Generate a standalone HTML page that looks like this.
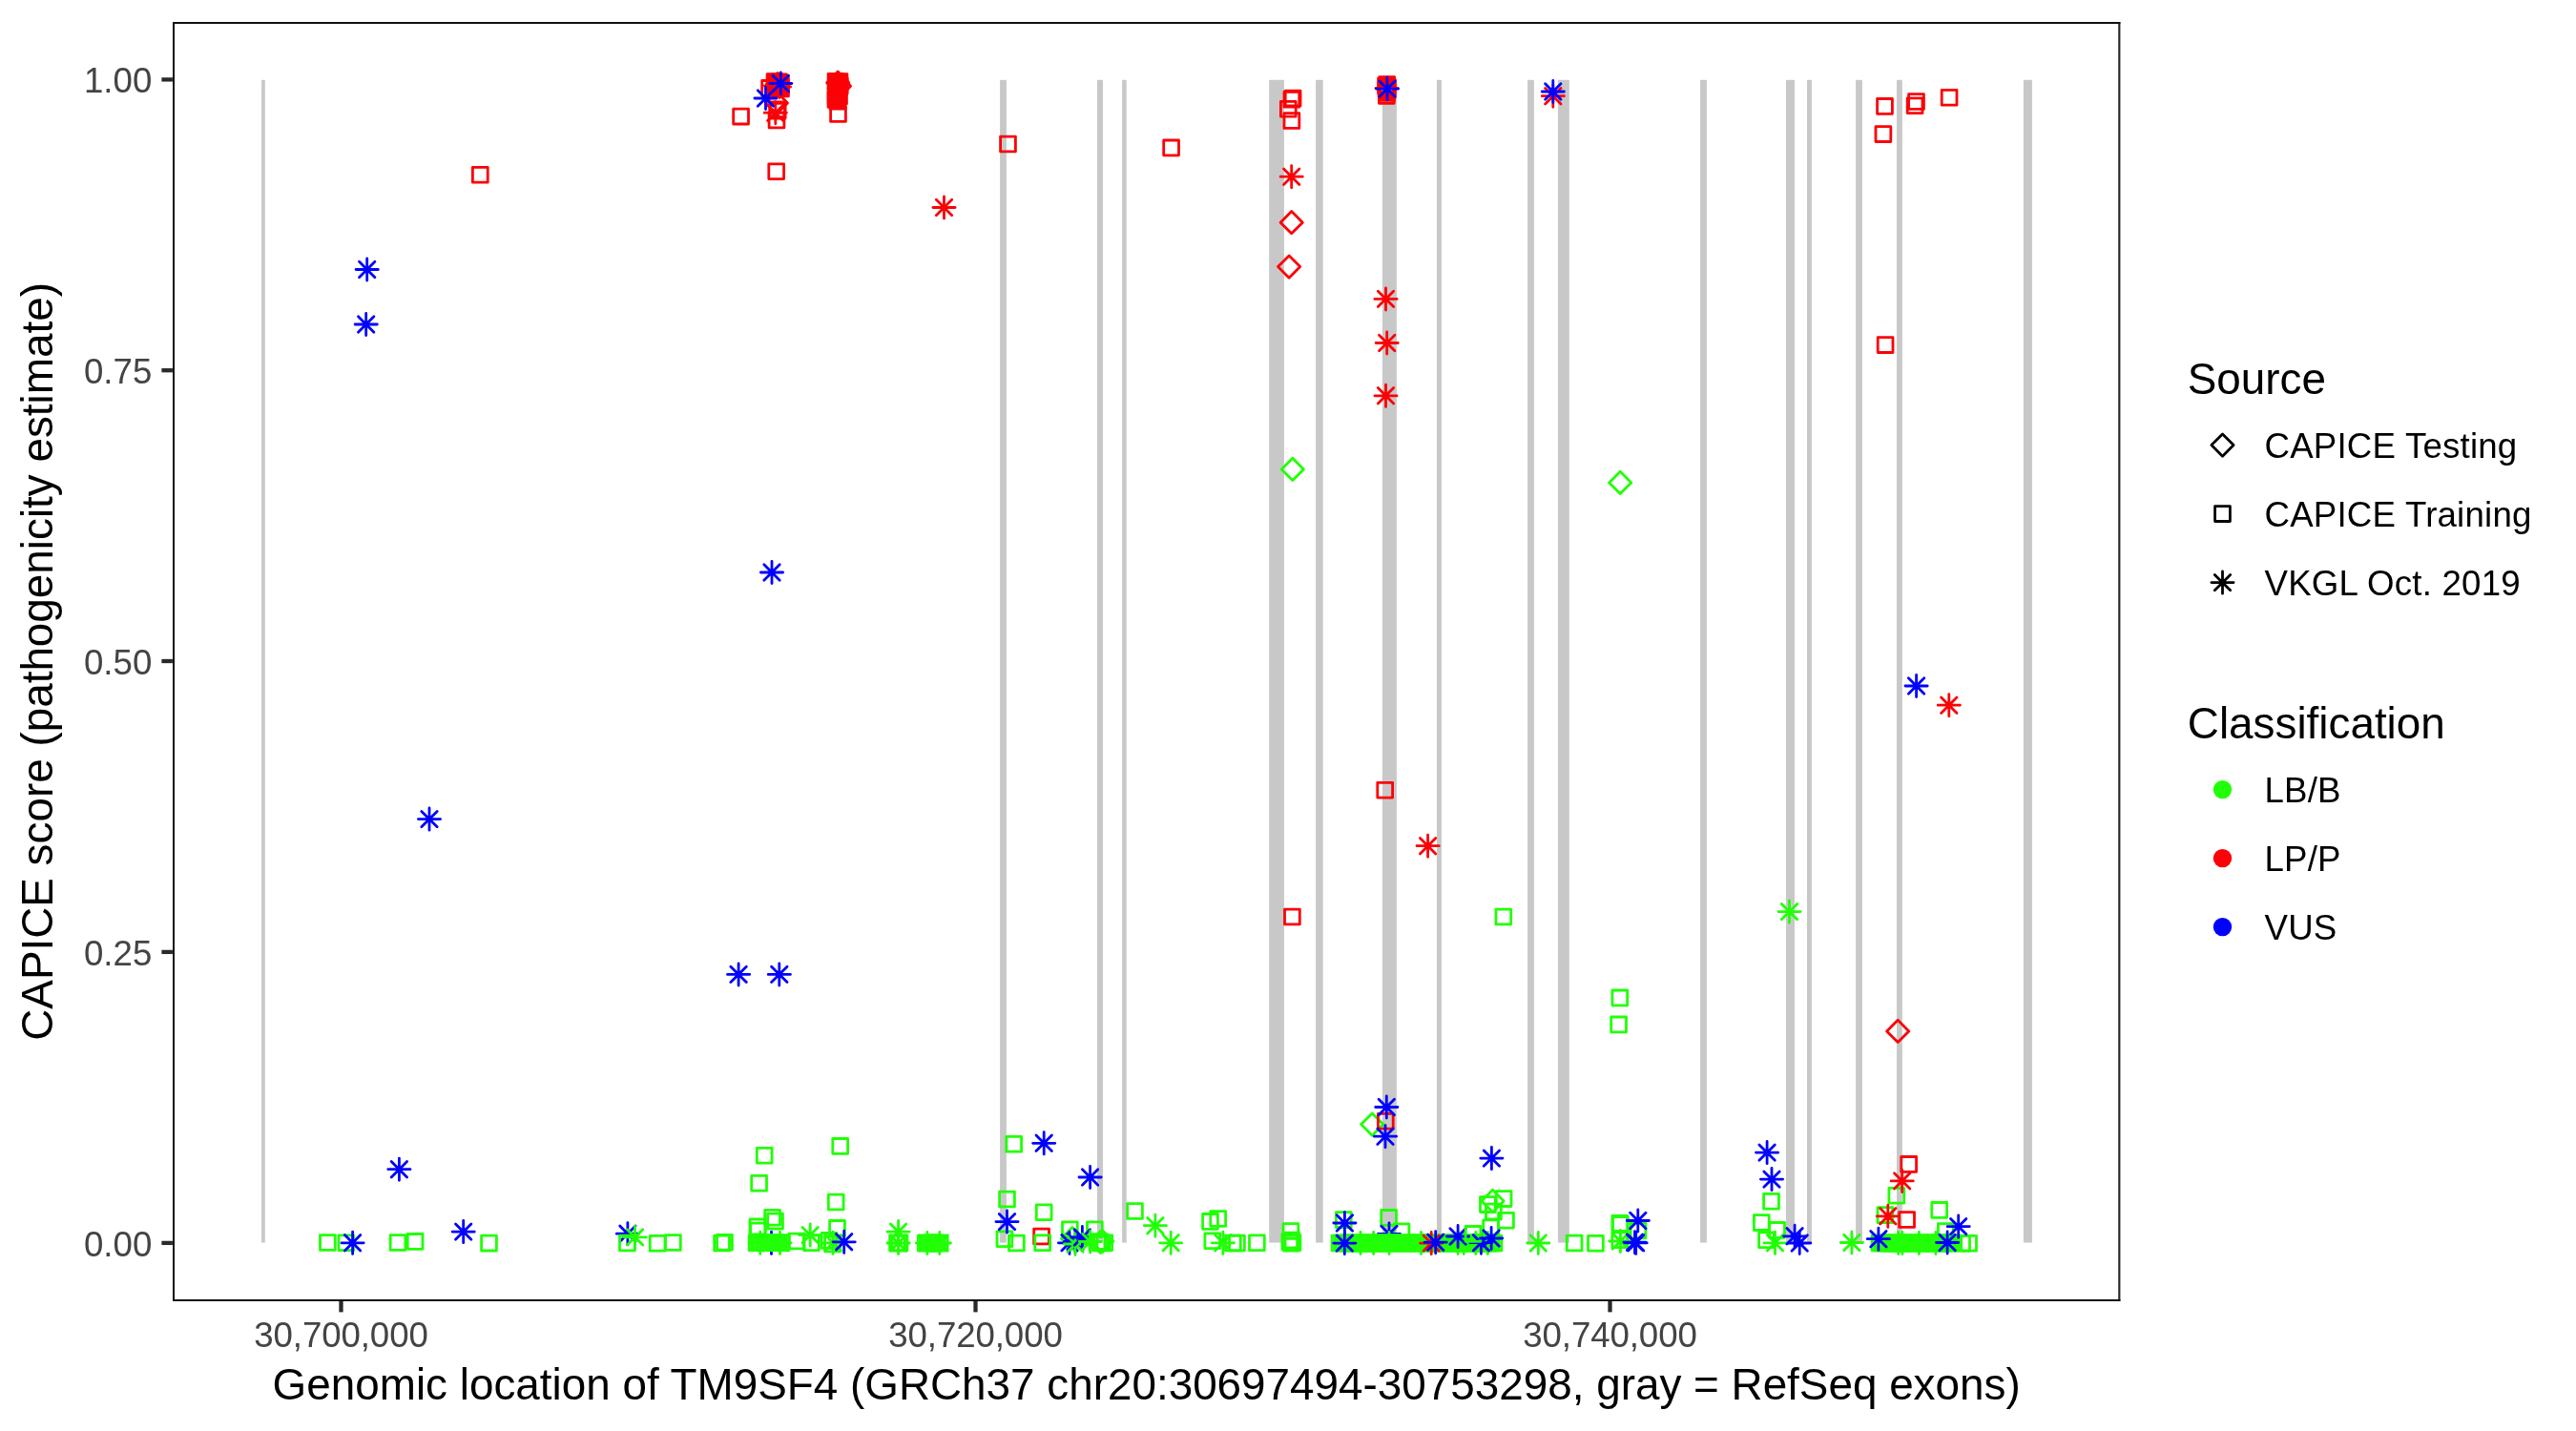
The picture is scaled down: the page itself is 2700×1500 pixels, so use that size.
<!DOCTYPE html>
<html><head><meta charset="utf-8"><title>CAPICE TM9SF4</title>
<style>html,body{margin:0;padding:0;background:#fff}svg{display:block;will-change:transform;transform:translateZ(0)}text{font-family:"Liberation Sans",Arial,Helvetica,sans-serif}</style></head><body>
<svg width="2700" height="1500" viewBox="0 0 2700 1500">
<rect width="2700" height="1500" fill="#fff"/>
<g fill="#C8C8C8">
<rect x="274.1" y="83.8" width="3.7" height="1218.8"/>
<rect x="1048.1" y="83.8" width="6.8" height="1218.8"/>
<rect x="1150.0" y="83.8" width="6.0" height="1218.8"/>
<rect x="1176.1" y="83.8" width="4.6" height="1218.8"/>
<rect x="1330.2" y="83.8" width="15.7" height="1218.8"/>
<rect x="1379.1" y="83.8" width="7.6" height="1218.8"/>
<rect x="1448.9" y="83.8" width="15.0" height="1218.8"/>
<rect x="1506.0" y="83.8" width="4.9" height="1218.8"/>
<rect x="1601.1" y="83.8" width="6.8" height="1218.8"/>
<rect x="1632.9" y="83.8" width="11.9" height="1218.8"/>
<rect x="1782.1" y="83.8" width="6.8" height="1218.8"/>
<rect x="1872.0" y="83.8" width="9.0" height="1218.8"/>
<rect x="1894.0" y="83.8" width="4.9" height="1218.8"/>
<rect x="1945.1" y="83.8" width="6.8" height="1218.8"/>
<rect x="1988.0" y="83.8" width="5.8" height="1218.8"/>
<rect x="2120.9" y="83.8" width="9.0" height="1218.8"/>
</g>
<g>
<rect x="335.5" y="1294.6" width="15.8" height="15.8" fill="none" stroke="#21FF06" stroke-width="2.8" stroke-linejoin="round"/>
<rect x="355.0" y="1294.9" width="15.8" height="15.8" fill="none" stroke="#21FF06" stroke-width="2.8" stroke-linejoin="round"/>
<rect x="409.1" y="1294.6" width="15.8" height="15.8" fill="none" stroke="#21FF06" stroke-width="2.8" stroke-linejoin="round"/>
<rect x="427.2" y="1293.5" width="15.8" height="15.8" fill="none" stroke="#21FF06" stroke-width="2.8" stroke-linejoin="round"/>
<rect x="504.6" y="1295.2" width="15.8" height="15.8" fill="none" stroke="#21FF06" stroke-width="2.8" stroke-linejoin="round"/>
<path d="M358.0 1302.8H381.2M369.6 1291.2V1314.4M361.4 1294.6L377.8 1311.0M361.4 1311.0L377.8 1294.6" fill="none" stroke="#0000FF" stroke-width="2.8" stroke-linecap="round"/>
<path d="M474.1 1291.1H497.3M485.7 1279.5V1302.7M477.5 1282.9L493.9 1299.3M477.5 1299.3L493.9 1282.9" fill="none" stroke="#0000FF" stroke-width="2.8" stroke-linecap="round"/>
<path d="M406.8 1225.7H430.0M418.4 1214.1V1237.3M410.2 1217.5L426.6 1233.9M410.2 1233.9L426.6 1217.5" fill="none" stroke="#0000FF" stroke-width="2.8" stroke-linecap="round"/>
<path d="M646.3 1293.2H669.5M657.9 1281.6V1304.8M649.7 1285.0L666.1 1301.4M649.7 1301.4L666.1 1285.0" fill="none" stroke="#0000FF" stroke-width="2.8" stroke-linecap="round"/>
<rect x="649.5" y="1295.1" width="15.8" height="15.8" fill="none" stroke="#21FF06" stroke-width="2.8" stroke-linejoin="round"/>
<rect x="681.2" y="1295.4" width="15.8" height="15.8" fill="none" stroke="#21FF06" stroke-width="2.8" stroke-linejoin="round"/>
<rect x="697.5" y="1294.6" width="15.8" height="15.8" fill="none" stroke="#21FF06" stroke-width="2.8" stroke-linejoin="round"/>
<rect x="748.7" y="1295.1" width="15.8" height="15.8" fill="none" stroke="#21FF06" stroke-width="2.8" stroke-linejoin="round"/>
<rect x="751.6" y="1294.3" width="15.8" height="15.8" fill="none" stroke="#21FF06" stroke-width="2.8" stroke-linejoin="round"/>
<rect x="793.3" y="1203.4" width="15.8" height="15.8" fill="none" stroke="#21FF06" stroke-width="2.8" stroke-linejoin="round"/>
<rect x="787.7" y="1232.3" width="15.8" height="15.8" fill="none" stroke="#21FF06" stroke-width="2.8" stroke-linejoin="round"/>
<rect x="872.8" y="1193.5" width="15.8" height="15.8" fill="none" stroke="#21FF06" stroke-width="2.8" stroke-linejoin="round"/>
<rect x="868.3" y="1252.1" width="15.8" height="15.8" fill="none" stroke="#21FF06" stroke-width="2.8" stroke-linejoin="round"/>
<rect x="869.6" y="1279.5" width="15.8" height="15.8" fill="none" stroke="#21FF06" stroke-width="2.8" stroke-linejoin="round"/>
<rect x="801.7" y="1268.3" width="15.8" height="15.8" fill="none" stroke="#21FF06" stroke-width="2.8" stroke-linejoin="round"/>
<rect x="804.6" y="1272.2" width="15.8" height="15.8" fill="none" stroke="#21FF06" stroke-width="2.8" stroke-linejoin="round"/>
<rect x="786.0" y="1278.0" width="15.8" height="15.8" fill="none" stroke="#21FF06" stroke-width="2.8" stroke-linejoin="round"/>
<rect x="786.6" y="1282.1" width="15.8" height="15.8" fill="none" stroke="#21FF06" stroke-width="2.8" stroke-linejoin="round"/>
<rect x="827.3" y="1293.1" width="15.8" height="15.8" fill="none" stroke="#21FF06" stroke-width="2.8" stroke-linejoin="round"/>
<rect x="842.5" y="1294.9" width="15.8" height="15.8" fill="none" stroke="#21FF06" stroke-width="2.8" stroke-linejoin="round"/>
<rect x="861.1" y="1292.5" width="15.8" height="15.8" fill="none" stroke="#21FF06" stroke-width="2.8" stroke-linejoin="round"/>
<rect x="864.6" y="1296.0" width="15.8" height="15.8" fill="none" stroke="#21FF06" stroke-width="2.8" stroke-linejoin="round"/>
<path d="M654.0 1296.9H677.2M665.6 1285.3V1308.5M657.4 1288.7L673.8 1305.1M657.4 1305.1L673.8 1288.7" fill="none" stroke="#21FF06" stroke-width="2.8" stroke-linecap="round"/>
<path d="M796.9 1302.8H820.1M808.5 1291.2V1314.4M800.3 1294.6L816.7 1311.0M800.3 1311.0L816.7 1294.6" fill="none" stroke="#0000FF" stroke-width="2.8" stroke-linecap="round"/>
<rect x="785.1" y="1294.9" width="15.8" height="15.8" fill="none" stroke="#21FF06" stroke-width="2.8" stroke-linejoin="round"/>
<rect x="787.7" y="1294.9" width="15.8" height="15.8" fill="none" stroke="#21FF06" stroke-width="2.8" stroke-linejoin="round"/>
<rect x="790.3" y="1294.9" width="15.8" height="15.8" fill="none" stroke="#21FF06" stroke-width="2.8" stroke-linejoin="round"/>
<rect x="792.9" y="1294.9" width="15.8" height="15.8" fill="none" stroke="#21FF06" stroke-width="2.8" stroke-linejoin="round"/>
<rect x="795.5" y="1294.9" width="15.8" height="15.8" fill="none" stroke="#21FF06" stroke-width="2.8" stroke-linejoin="round"/>
<rect x="798.1" y="1294.9" width="15.8" height="15.8" fill="none" stroke="#21FF06" stroke-width="2.8" stroke-linejoin="round"/>
<rect x="800.7" y="1294.9" width="15.8" height="15.8" fill="none" stroke="#21FF06" stroke-width="2.8" stroke-linejoin="round"/>
<rect x="803.3" y="1294.9" width="15.8" height="15.8" fill="none" stroke="#21FF06" stroke-width="2.8" stroke-linejoin="round"/>
<rect x="805.9" y="1294.9" width="15.8" height="15.8" fill="none" stroke="#21FF06" stroke-width="2.8" stroke-linejoin="round"/>
<rect x="808.5" y="1294.9" width="15.8" height="15.8" fill="none" stroke="#21FF06" stroke-width="2.8" stroke-linejoin="round"/>
<rect x="811.1" y="1294.9" width="15.8" height="15.8" fill="none" stroke="#21FF06" stroke-width="2.8" stroke-linejoin="round"/>
<path d="M785.2 1302.8H808.4M796.8 1291.2V1314.4M788.6 1294.6L805.0 1311.0M788.6 1311.0L805.0 1294.6" fill="none" stroke="#21FF06" stroke-width="2.8" stroke-linecap="round"/>
<path d="M805.9 1302.8H829.1M817.5 1291.2V1314.4M809.3 1294.6L825.7 1311.0M809.3 1311.0L825.7 1294.6" fill="none" stroke="#21FF06" stroke-width="2.8" stroke-linecap="round"/>
<path d="M837.6 1294.6H860.8M849.2 1283.0V1306.2M841.0 1286.4L857.4 1302.8M841.0 1302.8L857.4 1286.4" fill="none" stroke="#21FF06" stroke-width="2.8" stroke-linecap="round"/>
<path d="M861.5 1302.8H884.7M873.1 1291.2V1314.4M864.9 1294.6L881.3 1311.0M864.9 1311.0L881.3 1294.6" fill="none" stroke="#21FF06" stroke-width="2.8" stroke-linecap="round"/>
<path d="M873.1 1301.8H896.3M884.7 1290.2V1313.4M876.5 1293.6L892.9 1310.0M876.5 1310.0L892.9 1293.6" fill="none" stroke="#0000FF" stroke-width="2.8" stroke-linecap="round"/>
<path d="M930.0 1291.1H953.2M941.6 1279.5V1302.7M933.4 1282.9L949.8 1299.3M933.4 1299.3L949.8 1282.9" fill="none" stroke="#21FF06" stroke-width="2.8" stroke-linecap="round"/>
<rect x="932.6" y="1295.1" width="15.8" height="15.8" fill="none" stroke="#21FF06" stroke-width="2.8" stroke-linejoin="round"/>
<rect x="933.7" y="1295.1" width="15.8" height="15.8" fill="none" stroke="#21FF06" stroke-width="2.8" stroke-linejoin="round"/>
<rect x="935.1" y="1295.1" width="15.8" height="15.8" fill="none" stroke="#21FF06" stroke-width="2.8" stroke-linejoin="round"/>
<path d="M930.0 1303.0H953.2M941.6 1291.4V1314.6M933.4 1294.8L949.8 1311.2M933.4 1311.2L949.8 1294.8" fill="none" stroke="#21FF06" stroke-width="2.8" stroke-linecap="round"/>
<rect x="962.3" y="1295.1" width="15.8" height="15.8" fill="none" stroke="#21FF06" stroke-width="2.8" stroke-linejoin="round"/>
<rect x="964.6" y="1295.1" width="15.8" height="15.8" fill="none" stroke="#21FF06" stroke-width="2.8" stroke-linejoin="round"/>
<rect x="967.1" y="1295.1" width="15.8" height="15.8" fill="none" stroke="#21FF06" stroke-width="2.8" stroke-linejoin="round"/>
<rect x="969.6" y="1295.1" width="15.8" height="15.8" fill="none" stroke="#21FF06" stroke-width="2.8" stroke-linejoin="round"/>
<rect x="972.1" y="1295.1" width="15.8" height="15.8" fill="none" stroke="#21FF06" stroke-width="2.8" stroke-linejoin="round"/>
<rect x="974.6" y="1295.1" width="15.8" height="15.8" fill="none" stroke="#21FF06" stroke-width="2.8" stroke-linejoin="round"/>
<rect x="977.3" y="1295.1" width="15.8" height="15.8" fill="none" stroke="#21FF06" stroke-width="2.8" stroke-linejoin="round"/>
<path d="M960.3 1303.0H983.5M971.9 1291.4V1314.6M963.7 1294.8L980.1 1311.2M963.7 1311.2L980.1 1294.8" fill="none" stroke="#21FF06" stroke-width="2.8" stroke-linecap="round"/>
<path d="M973.2 1303.0H996.4M984.8 1291.4V1314.6M976.6 1294.8L993.0 1311.2M976.6 1311.2L993.0 1294.8" fill="none" stroke="#21FF06" stroke-width="2.8" stroke-linecap="round"/>
<rect x="1054.8" y="1191.4" width="15.8" height="15.8" fill="none" stroke="#21FF06" stroke-width="2.8" stroke-linejoin="round"/>
<rect x="1047.6" y="1249.1" width="15.8" height="15.8" fill="none" stroke="#21FF06" stroke-width="2.8" stroke-linejoin="round"/>
<rect x="1086.3" y="1262.8" width="15.8" height="15.8" fill="none" stroke="#21FF06" stroke-width="2.8" stroke-linejoin="round"/>
<rect x="1045.0" y="1290.8" width="15.8" height="15.8" fill="none" stroke="#21FF06" stroke-width="2.8" stroke-linejoin="round"/>
<rect x="1057.5" y="1295.1" width="15.8" height="15.8" fill="none" stroke="#21FF06" stroke-width="2.8" stroke-linejoin="round"/>
<path d="M1082.6 1198.3H1105.8M1094.2 1186.7V1209.9M1086.0 1190.1L1102.4 1206.5M1086.0 1206.5L1102.4 1190.1" fill="none" stroke="#0000FF" stroke-width="2.8" stroke-linecap="round"/>
<path d="M1131.0 1234.0H1154.2M1142.6 1222.4V1245.6M1134.4 1225.8L1150.8 1242.2M1134.4 1242.2L1150.8 1225.8" fill="none" stroke="#0000FF" stroke-width="2.8" stroke-linecap="round"/>
<path d="M1043.9 1280.6H1067.1M1055.5 1269.0V1292.2M1047.3 1272.4L1063.7 1288.8M1047.3 1288.8L1063.7 1272.4" fill="none" stroke="#0000FF" stroke-width="2.8" stroke-linecap="round"/>
<rect x="1083.7" y="1288.1" width="15.8" height="15.8" fill="none" stroke="#FB0207" stroke-width="2.8" stroke-linejoin="round"/>
<rect x="1084.8" y="1294.9" width="15.8" height="15.8" fill="none" stroke="#21FF06" stroke-width="2.8" stroke-linejoin="round"/>
<rect x="1113.5" y="1280.8" width="15.8" height="15.8" fill="none" stroke="#21FF06" stroke-width="2.8" stroke-linejoin="round"/>
<rect x="1139.5" y="1280.8" width="15.8" height="15.8" fill="none" stroke="#21FF06" stroke-width="2.8" stroke-linejoin="round"/>
<rect x="1181.6" y="1261.6" width="15.8" height="15.8" fill="none" stroke="#21FF06" stroke-width="2.8" stroke-linejoin="round"/>
<path d="M1112.3 1298.2L1123.9 1286.6L1135.5 1298.2L1123.9 1309.8Z" fill="none" stroke="#21FF06" stroke-width="2.8" stroke-linejoin="round"/>
<path d="M1109.4 1302.8H1132.6M1121.0 1291.2V1314.4M1112.8 1294.6L1129.2 1311.0M1112.8 1311.0L1129.2 1294.6" fill="none" stroke="#0000FF" stroke-width="2.8" stroke-linecap="round"/>
<path d="M1115.4 1301.5H1138.6M1127.0 1289.9V1313.1M1118.8 1293.3L1135.2 1309.7M1118.8 1309.7L1135.2 1293.3" fill="none" stroke="#0000FF" stroke-width="2.8" stroke-linecap="round"/>
<path d="M1115.4 1304.0H1138.6M1127.0 1292.4V1315.6M1118.8 1295.8L1135.2 1312.2M1118.8 1312.2L1135.2 1295.8" fill="none" stroke="#21FF06" stroke-width="2.8" stroke-linecap="round"/>
<path d="M1122.8 1297.0H1146.0M1134.4 1285.4V1308.6M1126.2 1288.8L1142.6 1305.2M1126.2 1305.2L1142.6 1288.8" fill="none" stroke="#0000FF" stroke-width="2.8" stroke-linecap="round"/>
<path d="M1131.2 1301.5H1154.4M1142.8 1289.9V1313.1M1134.6 1293.3L1151.0 1309.7M1134.6 1309.7L1151.0 1293.3" fill="none" stroke="#21FF06" stroke-width="2.8" stroke-linecap="round"/>
<rect x="1142.1" y="1294.6" width="15.8" height="15.8" fill="none" stroke="#21FF06" stroke-width="2.8" stroke-linejoin="round"/>
<rect x="1144.6" y="1293.6" width="15.8" height="15.8" fill="none" stroke="#21FF06" stroke-width="2.8" stroke-linejoin="round"/>
<rect x="1147.1" y="1295.1" width="15.8" height="15.8" fill="none" stroke="#21FF06" stroke-width="2.8" stroke-linejoin="round"/>
<rect x="1149.9" y="1294.8" width="15.8" height="15.8" fill="none" stroke="#21FF06" stroke-width="2.8" stroke-linejoin="round"/>
<path d="M1143.7 1301.1L1155.3 1289.5L1166.9 1301.1L1155.3 1312.7Z" fill="none" stroke="#21FF06" stroke-width="2.8" stroke-linejoin="round"/>
<path d="M1141.9 1302.0L1153.5 1290.4L1165.1 1302.0L1153.5 1313.6Z" fill="none" stroke="#21FF06" stroke-width="2.8" stroke-linejoin="round"/>
<path d="M1199.3 1284.7H1222.5M1210.9 1273.1V1296.3M1202.7 1276.5L1219.1 1292.9M1202.7 1292.9L1219.1 1276.5" fill="none" stroke="#21FF06" stroke-width="2.8" stroke-linecap="round"/>
<path d="M1215.6 1302.8H1238.8M1227.2 1291.2V1314.4M1219.0 1294.6L1235.4 1311.0M1219.0 1311.0L1235.4 1294.6" fill="none" stroke="#21FF06" stroke-width="2.8" stroke-linecap="round"/>
<rect x="1260.6" y="1272.5" width="15.8" height="15.8" fill="none" stroke="#21FF06" stroke-width="2.8" stroke-linejoin="round"/>
<rect x="1268.8" y="1269.6" width="15.8" height="15.8" fill="none" stroke="#21FF06" stroke-width="2.8" stroke-linejoin="round"/>
<rect x="1262.9" y="1292.8" width="15.8" height="15.8" fill="none" stroke="#21FF06" stroke-width="2.8" stroke-linejoin="round"/>
<rect x="1284.5" y="1295.1" width="15.8" height="15.8" fill="none" stroke="#21FF06" stroke-width="2.8" stroke-linejoin="round"/>
<rect x="1288.6" y="1295.1" width="15.8" height="15.8" fill="none" stroke="#21FF06" stroke-width="2.8" stroke-linejoin="round"/>
<rect x="1309.5" y="1294.9" width="15.8" height="15.8" fill="none" stroke="#21FF06" stroke-width="2.8" stroke-linejoin="round"/>
<rect x="1345.0" y="1282.6" width="15.8" height="15.8" fill="none" stroke="#21FF06" stroke-width="2.8" stroke-linejoin="round"/>
<rect x="1345.6" y="1292.1" width="15.8" height="15.8" fill="none" stroke="#21FF06" stroke-width="2.8" stroke-linejoin="round"/>
<rect x="1343.9" y="1293.7" width="15.8" height="15.8" fill="none" stroke="#21FF06" stroke-width="2.8" stroke-linejoin="round"/>
<rect x="1347.1" y="1294.6" width="15.8" height="15.8" fill="none" stroke="#21FF06" stroke-width="2.8" stroke-linejoin="round"/>
<rect x="1345.6" y="1295.4" width="15.8" height="15.8" fill="none" stroke="#21FF06" stroke-width="2.8" stroke-linejoin="round"/>
<path d="M1270.3 1302.8H1293.5M1281.9 1291.2V1314.4M1273.7 1294.6L1290.1 1311.0M1273.7 1311.0L1290.1 1294.6" fill="none" stroke="#21FF06" stroke-width="2.8" stroke-linecap="round"/>
<rect x="1400.4" y="1270.7" width="15.8" height="15.8" fill="none" stroke="#21FF06" stroke-width="2.8" stroke-linejoin="round"/>
<rect x="1447.7" y="1268.5" width="15.8" height="15.8" fill="none" stroke="#21FF06" stroke-width="2.8" stroke-linejoin="round"/>
<rect x="1461.1" y="1282.9" width="15.8" height="15.8" fill="none" stroke="#21FF06" stroke-width="2.8" stroke-linejoin="round"/>
<path d="M1444.4 1293.4H1467.6M1456.0 1281.8V1305.0M1447.8 1285.2L1464.2 1301.6M1447.8 1301.6L1464.2 1285.2" fill="none" stroke="#0000FF" stroke-width="2.8" stroke-linecap="round"/>
<rect x="1396.1" y="1295.1" width="15.8" height="15.8" fill="none" stroke="#21FF06" stroke-width="2.8" stroke-linejoin="round"/>
<rect x="1398.8" y="1295.1" width="15.8" height="15.8" fill="none" stroke="#21FF06" stroke-width="2.8" stroke-linejoin="round"/>
<rect x="1401.5" y="1295.1" width="15.8" height="15.8" fill="none" stroke="#21FF06" stroke-width="2.8" stroke-linejoin="round"/>
<rect x="1404.2" y="1295.1" width="15.8" height="15.8" fill="none" stroke="#21FF06" stroke-width="2.8" stroke-linejoin="round"/>
<rect x="1406.9" y="1295.1" width="15.8" height="15.8" fill="none" stroke="#21FF06" stroke-width="2.8" stroke-linejoin="round"/>
<rect x="1409.6" y="1295.1" width="15.8" height="15.8" fill="none" stroke="#21FF06" stroke-width="2.8" stroke-linejoin="round"/>
<rect x="1412.3" y="1295.1" width="15.8" height="15.8" fill="none" stroke="#21FF06" stroke-width="2.8" stroke-linejoin="round"/>
<rect x="1415.0" y="1295.1" width="15.8" height="15.8" fill="none" stroke="#21FF06" stroke-width="2.8" stroke-linejoin="round"/>
<rect x="1417.7" y="1295.1" width="15.8" height="15.8" fill="none" stroke="#21FF06" stroke-width="2.8" stroke-linejoin="round"/>
<rect x="1420.4" y="1295.1" width="15.8" height="15.8" fill="none" stroke="#21FF06" stroke-width="2.8" stroke-linejoin="round"/>
<rect x="1423.1" y="1295.1" width="15.8" height="15.8" fill="none" stroke="#21FF06" stroke-width="2.8" stroke-linejoin="round"/>
<rect x="1425.8" y="1295.1" width="15.8" height="15.8" fill="none" stroke="#21FF06" stroke-width="2.8" stroke-linejoin="round"/>
<rect x="1428.5" y="1295.1" width="15.8" height="15.8" fill="none" stroke="#21FF06" stroke-width="2.8" stroke-linejoin="round"/>
<rect x="1431.2" y="1295.1" width="15.8" height="15.8" fill="none" stroke="#21FF06" stroke-width="2.8" stroke-linejoin="round"/>
<rect x="1433.9" y="1295.1" width="15.8" height="15.8" fill="none" stroke="#21FF06" stroke-width="2.8" stroke-linejoin="round"/>
<rect x="1436.6" y="1295.1" width="15.8" height="15.8" fill="none" stroke="#21FF06" stroke-width="2.8" stroke-linejoin="round"/>
<rect x="1439.3" y="1295.1" width="15.8" height="15.8" fill="none" stroke="#21FF06" stroke-width="2.8" stroke-linejoin="round"/>
<rect x="1442.0" y="1295.1" width="15.8" height="15.8" fill="none" stroke="#21FF06" stroke-width="2.8" stroke-linejoin="round"/>
<rect x="1444.7" y="1295.1" width="15.8" height="15.8" fill="none" stroke="#21FF06" stroke-width="2.8" stroke-linejoin="round"/>
<rect x="1447.4" y="1295.1" width="15.8" height="15.8" fill="none" stroke="#21FF06" stroke-width="2.8" stroke-linejoin="round"/>
<rect x="1450.1" y="1295.1" width="15.8" height="15.8" fill="none" stroke="#21FF06" stroke-width="2.8" stroke-linejoin="round"/>
<rect x="1452.8" y="1295.1" width="15.8" height="15.8" fill="none" stroke="#21FF06" stroke-width="2.8" stroke-linejoin="round"/>
<rect x="1455.5" y="1295.1" width="15.8" height="15.8" fill="none" stroke="#21FF06" stroke-width="2.8" stroke-linejoin="round"/>
<rect x="1458.2" y="1295.1" width="15.8" height="15.8" fill="none" stroke="#21FF06" stroke-width="2.8" stroke-linejoin="round"/>
<rect x="1460.9" y="1295.1" width="15.8" height="15.8" fill="none" stroke="#21FF06" stroke-width="2.8" stroke-linejoin="round"/>
<rect x="1463.6" y="1295.1" width="15.8" height="15.8" fill="none" stroke="#21FF06" stroke-width="2.8" stroke-linejoin="round"/>
<rect x="1466.3" y="1295.1" width="15.8" height="15.8" fill="none" stroke="#21FF06" stroke-width="2.8" stroke-linejoin="round"/>
<rect x="1469.0" y="1295.1" width="15.8" height="15.8" fill="none" stroke="#21FF06" stroke-width="2.8" stroke-linejoin="round"/>
<rect x="1471.7" y="1295.1" width="15.8" height="15.8" fill="none" stroke="#21FF06" stroke-width="2.8" stroke-linejoin="round"/>
<rect x="1474.4" y="1295.1" width="15.8" height="15.8" fill="none" stroke="#21FF06" stroke-width="2.8" stroke-linejoin="round"/>
<rect x="1477.1" y="1295.1" width="15.8" height="15.8" fill="none" stroke="#21FF06" stroke-width="2.8" stroke-linejoin="round"/>
<rect x="1479.8" y="1295.1" width="15.8" height="15.8" fill="none" stroke="#21FF06" stroke-width="2.8" stroke-linejoin="round"/>
<rect x="1482.5" y="1295.1" width="15.8" height="15.8" fill="none" stroke="#21FF06" stroke-width="2.8" stroke-linejoin="round"/>
<rect x="1485.2" y="1295.1" width="15.8" height="15.8" fill="none" stroke="#21FF06" stroke-width="2.8" stroke-linejoin="round"/>
<rect x="1487.9" y="1295.1" width="15.8" height="15.8" fill="none" stroke="#21FF06" stroke-width="2.8" stroke-linejoin="round"/>
<rect x="1490.6" y="1295.1" width="15.8" height="15.8" fill="none" stroke="#21FF06" stroke-width="2.8" stroke-linejoin="round"/>
<rect x="1493.3" y="1295.1" width="15.8" height="15.8" fill="none" stroke="#21FF06" stroke-width="2.8" stroke-linejoin="round"/>
<rect x="1496.0" y="1295.1" width="15.8" height="15.8" fill="none" stroke="#21FF06" stroke-width="2.8" stroke-linejoin="round"/>
<rect x="1498.7" y="1295.1" width="15.8" height="15.8" fill="none" stroke="#21FF06" stroke-width="2.8" stroke-linejoin="round"/>
<rect x="1501.4" y="1295.1" width="15.8" height="15.8" fill="none" stroke="#21FF06" stroke-width="2.8" stroke-linejoin="round"/>
<rect x="1504.1" y="1295.1" width="15.8" height="15.8" fill="none" stroke="#21FF06" stroke-width="2.8" stroke-linejoin="round"/>
<rect x="1506.8" y="1295.1" width="15.8" height="15.8" fill="none" stroke="#21FF06" stroke-width="2.8" stroke-linejoin="round"/>
<rect x="1509.5" y="1295.1" width="15.8" height="15.8" fill="none" stroke="#21FF06" stroke-width="2.8" stroke-linejoin="round"/>
<rect x="1512.2" y="1295.1" width="15.8" height="15.8" fill="none" stroke="#21FF06" stroke-width="2.8" stroke-linejoin="round"/>
<rect x="1514.9" y="1295.1" width="15.8" height="15.8" fill="none" stroke="#21FF06" stroke-width="2.8" stroke-linejoin="round"/>
<rect x="1517.6" y="1295.1" width="15.8" height="15.8" fill="none" stroke="#21FF06" stroke-width="2.8" stroke-linejoin="round"/>
<rect x="1520.3" y="1295.1" width="15.8" height="15.8" fill="none" stroke="#21FF06" stroke-width="2.8" stroke-linejoin="round"/>
<rect x="1523.0" y="1295.1" width="15.8" height="15.8" fill="none" stroke="#21FF06" stroke-width="2.8" stroke-linejoin="round"/>
<rect x="1525.7" y="1295.1" width="15.8" height="15.8" fill="none" stroke="#21FF06" stroke-width="2.8" stroke-linejoin="round"/>
<rect x="1528.4" y="1295.1" width="15.8" height="15.8" fill="none" stroke="#21FF06" stroke-width="2.8" stroke-linejoin="round"/>
<rect x="1531.1" y="1295.1" width="15.8" height="15.8" fill="none" stroke="#21FF06" stroke-width="2.8" stroke-linejoin="round"/>
<rect x="1533.8" y="1295.1" width="15.8" height="15.8" fill="none" stroke="#21FF06" stroke-width="2.8" stroke-linejoin="round"/>
<rect x="1536.5" y="1295.1" width="15.8" height="15.8" fill="none" stroke="#21FF06" stroke-width="2.8" stroke-linejoin="round"/>
<rect x="1539.2" y="1295.1" width="15.8" height="15.8" fill="none" stroke="#21FF06" stroke-width="2.8" stroke-linejoin="round"/>
<rect x="1541.9" y="1295.1" width="15.8" height="15.8" fill="none" stroke="#21FF06" stroke-width="2.8" stroke-linejoin="round"/>
<rect x="1544.6" y="1295.1" width="15.8" height="15.8" fill="none" stroke="#21FF06" stroke-width="2.8" stroke-linejoin="round"/>
<rect x="1547.3" y="1295.1" width="15.8" height="15.8" fill="none" stroke="#21FF06" stroke-width="2.8" stroke-linejoin="round"/>
<rect x="1550.0" y="1295.1" width="15.8" height="15.8" fill="none" stroke="#21FF06" stroke-width="2.8" stroke-linejoin="round"/>
<rect x="1552.7" y="1295.1" width="15.8" height="15.8" fill="none" stroke="#21FF06" stroke-width="2.8" stroke-linejoin="round"/>
<rect x="1555.4" y="1295.1" width="15.8" height="15.8" fill="none" stroke="#21FF06" stroke-width="2.8" stroke-linejoin="round"/>
<rect x="1558.1" y="1295.1" width="15.8" height="15.8" fill="none" stroke="#21FF06" stroke-width="2.8" stroke-linejoin="round"/>
<path d="M1414.4 1303.0H1437.6M1426.0 1291.4V1314.6M1417.8 1294.8L1434.2 1311.2M1417.8 1311.2L1434.2 1294.8" fill="none" stroke="#21FF06" stroke-width="2.8" stroke-linecap="round"/>
<path d="M1428.0 1303.0H1451.2M1439.6 1291.4V1314.6M1431.4 1294.8L1447.8 1311.2M1431.4 1311.2L1447.8 1294.8" fill="none" stroke="#21FF06" stroke-width="2.8" stroke-linecap="round"/>
<path d="M1444.4 1303.0H1467.6M1456.0 1291.4V1314.6M1447.8 1294.8L1464.2 1311.2M1447.8 1311.2L1464.2 1294.8" fill="none" stroke="#21FF06" stroke-width="2.8" stroke-linecap="round"/>
<path d="M1477.9 1303.0H1501.1M1489.5 1291.4V1314.6M1481.3 1294.8L1497.7 1311.2M1481.3 1311.2L1497.7 1294.8" fill="none" stroke="#21FF06" stroke-width="2.8" stroke-linecap="round"/>
<path d="M1516.5 1303.0H1539.7M1528.1 1291.4V1314.6M1519.9 1294.8L1536.3 1311.2M1519.9 1311.2L1536.3 1294.8" fill="none" stroke="#21FF06" stroke-width="2.8" stroke-linecap="round"/>
<path d="M1522.6 1303.0H1545.8M1534.2 1291.4V1314.6M1526.0 1294.8L1542.4 1311.2M1526.0 1311.2L1542.4 1294.8" fill="none" stroke="#21FF06" stroke-width="2.8" stroke-linecap="round"/>
<path d="M1535.2 1303.0H1558.4M1546.8 1291.4V1314.6M1538.6 1294.8L1555.0 1311.2M1538.6 1311.2L1555.0 1294.8" fill="none" stroke="#21FF06" stroke-width="2.8" stroke-linecap="round"/>
<path d="M1547.8 1303.0H1571.0M1559.4 1291.4V1314.6M1551.2 1294.8L1567.6 1311.2M1551.2 1311.2L1567.6 1294.8" fill="none" stroke="#21FF06" stroke-width="2.8" stroke-linecap="round"/>
<path d="M1397.8 1282.0H1421.0M1409.4 1270.4V1293.6M1401.2 1273.8L1417.6 1290.2M1401.2 1290.2L1417.6 1273.8" fill="none" stroke="#0000FF" stroke-width="2.8" stroke-linecap="round"/>
<path d="M1397.7 1303.1H1420.9M1409.3 1291.5V1314.7M1401.1 1294.9L1417.5 1311.3M1401.1 1311.3L1417.5 1294.9" fill="none" stroke="#0000FF" stroke-width="2.8" stroke-linecap="round"/>
<path d="M1488.6 1303.1H1511.8M1500.2 1291.5V1314.7M1492.0 1294.9L1508.4 1311.3M1492.0 1311.3L1508.4 1294.9" fill="none" stroke="#FB0207" stroke-width="2.8" stroke-linecap="round"/>
<path d="M1493.1 1302.2H1516.3M1504.7 1290.6V1313.8M1496.5 1294.0L1512.9 1310.4M1496.5 1310.4L1512.9 1294.0" fill="none" stroke="#0000FF" stroke-width="2.8" stroke-linecap="round"/>
<path d="M1516.5 1296.0H1539.7M1528.1 1284.4V1307.6M1519.9 1287.8L1536.3 1304.2M1519.9 1304.2L1536.3 1287.8" fill="none" stroke="#0000FF" stroke-width="2.8" stroke-linecap="round"/>
<path d="M1540.8 1302.7H1564.0M1552.4 1291.1V1314.3M1544.2 1294.5L1560.6 1310.9M1544.2 1310.9L1560.6 1294.5" fill="none" stroke="#0000FF" stroke-width="2.8" stroke-linecap="round"/>
<rect x="1551.5" y="1254.7" width="15.8" height="15.8" fill="none" stroke="#21FF06" stroke-width="2.8" stroke-linejoin="round"/>
<rect x="1568.2" y="1248.7" width="15.8" height="15.8" fill="none" stroke="#21FF06" stroke-width="2.8" stroke-linejoin="round"/>
<rect x="1570.6" y="1271.3" width="15.8" height="15.8" fill="none" stroke="#21FF06" stroke-width="2.8" stroke-linejoin="round"/>
<rect x="1554.7" y="1278.9" width="15.8" height="15.8" fill="none" stroke="#21FF06" stroke-width="2.8" stroke-linejoin="round"/>
<rect x="1557.5" y="1262.2" width="15.8" height="15.8" fill="none" stroke="#21FF06" stroke-width="2.8" stroke-linejoin="round"/>
<rect x="1536.1" y="1285.5" width="15.8" height="15.8" fill="none" stroke="#21FF06" stroke-width="2.8" stroke-linejoin="round"/>
<path d="M1552.9 1258.9L1564.5 1247.3L1576.1 1258.9L1564.5 1270.5Z" fill="none" stroke="#21FF06" stroke-width="2.8" stroke-linejoin="round"/>
<path d="M1551.5 1298.0H1574.7M1563.1 1286.4V1309.6M1554.9 1289.8L1571.3 1306.2M1554.9 1306.2L1571.3 1289.8" fill="none" stroke="#0000FF" stroke-width="2.8" stroke-linecap="round"/>
<path d="M1426.6 1178.6L1438.2 1167.0L1449.8 1178.6L1438.2 1190.2Z" fill="none" stroke="#21FF06" stroke-width="2.8" stroke-linejoin="round"/>
<rect x="1444.4" y="1167.4" width="15.8" height="15.8" fill="none" stroke="#FB0207" stroke-width="2.8" stroke-linejoin="round"/>
<path d="M1441.7 1160.5H1464.9M1453.3 1148.9V1172.1M1445.1 1152.3L1461.5 1168.7M1445.1 1168.7L1461.5 1152.3" fill="none" stroke="#0000FF" stroke-width="2.8" stroke-linecap="round"/>
<path d="M1440.4 1191.2H1463.6M1452.0 1179.6V1202.8M1443.8 1183.0L1460.2 1199.4M1443.8 1199.4L1460.2 1183.0" fill="none" stroke="#0000FF" stroke-width="2.8" stroke-linecap="round"/>
<path d="M1551.8 1214.1H1575.0M1563.4 1202.5V1225.7M1555.2 1205.9L1571.6 1222.3M1555.2 1222.3L1571.6 1205.9" fill="none" stroke="#0000FF" stroke-width="2.8" stroke-linecap="round"/>
<path d="M1600.7 1303.0H1623.9M1612.3 1291.4V1314.6M1604.1 1294.8L1620.5 1311.2M1604.1 1311.2L1620.5 1294.8" fill="none" stroke="#21FF06" stroke-width="2.8" stroke-linecap="round"/>
<rect x="1642.2" y="1295.1" width="15.8" height="15.8" fill="none" stroke="#21FF06" stroke-width="2.8" stroke-linejoin="round"/>
<rect x="1664.5" y="1295.4" width="15.8" height="15.8" fill="none" stroke="#21FF06" stroke-width="2.8" stroke-linejoin="round"/>
<rect x="1689.9" y="1274.5" width="15.8" height="15.8" fill="none" stroke="#21FF06" stroke-width="2.8" stroke-linejoin="round"/>
<rect x="1690.5" y="1275.6" width="15.8" height="15.8" fill="none" stroke="#21FF06" stroke-width="2.8" stroke-linejoin="round"/>
<rect x="1689.9" y="1291.9" width="15.8" height="15.8" fill="none" stroke="#21FF06" stroke-width="2.8" stroke-linejoin="round"/>
<rect x="1709.1" y="1282.0" width="15.8" height="15.8" fill="none" stroke="#21FF06" stroke-width="2.8" stroke-linejoin="round"/>
<path d="M1686.8 1301.0H1710.0M1698.4 1289.4V1312.6M1690.2 1292.8L1706.6 1309.2M1690.2 1309.2L1706.6 1292.8" fill="none" stroke="#21FF06" stroke-width="2.8" stroke-linecap="round"/>
<path d="M1705.2 1279.5H1728.4M1716.8 1267.9V1291.1M1708.6 1271.3L1725.0 1287.7M1708.6 1287.7L1725.0 1271.3" fill="none" stroke="#0000FF" stroke-width="2.8" stroke-linecap="round"/>
<path d="M1701.9 1302.2H1725.1M1713.5 1290.6V1313.8M1705.3 1294.0L1721.7 1310.4M1705.3 1310.4L1721.7 1294.0" fill="none" stroke="#0000FF" stroke-width="2.8" stroke-linecap="round"/>
<path d="M1703.1 1302.8H1726.3M1714.7 1291.2V1314.4M1706.5 1294.6L1722.9 1311.0M1706.5 1311.0L1722.9 1294.6" fill="none" stroke="#0000FF" stroke-width="2.8" stroke-linecap="round"/>
<path d="M1840.5 1208.1H1863.7M1852.1 1196.5V1219.7M1843.9 1199.9L1860.3 1216.3M1843.9 1216.3L1860.3 1199.9" fill="none" stroke="#0000FF" stroke-width="2.8" stroke-linecap="round"/>
<path d="M1845.4 1236.1H1868.6M1857.0 1224.5V1247.7M1848.8 1227.9L1865.2 1244.3M1848.8 1244.3L1865.2 1227.9" fill="none" stroke="#0000FF" stroke-width="2.8" stroke-linecap="round"/>
<rect x="1848.6" y="1251.4" width="15.8" height="15.8" fill="none" stroke="#21FF06" stroke-width="2.8" stroke-linejoin="round"/>
<rect x="1838.4" y="1273.7" width="15.8" height="15.8" fill="none" stroke="#21FF06" stroke-width="2.8" stroke-linejoin="round"/>
<rect x="1854.7" y="1281.5" width="15.8" height="15.8" fill="none" stroke="#21FF06" stroke-width="2.8" stroke-linejoin="round"/>
<rect x="1843.6" y="1291.9" width="15.8" height="15.8" fill="none" stroke="#21FF06" stroke-width="2.8" stroke-linejoin="round"/>
<path d="M1848.9 1302.8H1872.1M1860.5 1291.2V1314.4M1852.3 1294.6L1868.7 1311.0M1852.3 1311.0L1868.7 1294.6" fill="none" stroke="#21FF06" stroke-width="2.8" stroke-linecap="round"/>
<path d="M1869.5 1295.8H1892.7M1881.1 1284.2V1307.4M1872.9 1287.6L1889.3 1304.0M1872.9 1304.0L1889.3 1287.6" fill="none" stroke="#0000FF" stroke-width="2.8" stroke-linecap="round"/>
<path d="M1874.6 1303.0H1897.8M1886.2 1291.4V1314.6M1878.0 1294.8L1894.4 1311.2M1878.0 1311.2L1894.4 1294.8" fill="none" stroke="#0000FF" stroke-width="2.8" stroke-linecap="round"/>
<path d="M1929.3 1302.5H1952.5M1940.9 1290.9V1314.1M1932.7 1294.3L1949.1 1310.7M1932.7 1310.7L1949.1 1294.3" fill="none" stroke="#21FF06" stroke-width="2.8" stroke-linecap="round"/>
<rect x="1979.9" y="1245.4" width="15.8" height="15.8" fill="none" stroke="#21FF06" stroke-width="2.8" stroke-linejoin="round"/>
<rect x="1968.0" y="1265.7" width="15.8" height="15.8" fill="none" stroke="#21FF06" stroke-width="2.8" stroke-linejoin="round"/>
<rect x="2024.8" y="1260.5" width="15.8" height="15.8" fill="none" stroke="#21FF06" stroke-width="2.8" stroke-linejoin="round"/>
<rect x="2031.4" y="1282.6" width="15.8" height="15.8" fill="none" stroke="#21FF06" stroke-width="2.8" stroke-linejoin="round"/>
<rect x="2048.7" y="1295.4" width="15.8" height="15.8" fill="none" stroke="#21FF06" stroke-width="2.8" stroke-linejoin="round"/>
<rect x="2055.7" y="1295.4" width="15.8" height="15.8" fill="none" stroke="#21FF06" stroke-width="2.8" stroke-linejoin="round"/>
<rect x="1962.1" y="1295.1" width="15.8" height="15.8" fill="none" stroke="#21FF06" stroke-width="2.8" stroke-linejoin="round"/>
<rect x="1964.8" y="1295.1" width="15.8" height="15.8" fill="none" stroke="#21FF06" stroke-width="2.8" stroke-linejoin="round"/>
<rect x="1967.5" y="1295.1" width="15.8" height="15.8" fill="none" stroke="#21FF06" stroke-width="2.8" stroke-linejoin="round"/>
<rect x="1970.2" y="1295.1" width="15.8" height="15.8" fill="none" stroke="#21FF06" stroke-width="2.8" stroke-linejoin="round"/>
<rect x="1972.9" y="1295.1" width="15.8" height="15.8" fill="none" stroke="#21FF06" stroke-width="2.8" stroke-linejoin="round"/>
<rect x="1975.6" y="1295.1" width="15.8" height="15.8" fill="none" stroke="#21FF06" stroke-width="2.8" stroke-linejoin="round"/>
<rect x="1978.3" y="1295.1" width="15.8" height="15.8" fill="none" stroke="#21FF06" stroke-width="2.8" stroke-linejoin="round"/>
<rect x="1981.0" y="1295.1" width="15.8" height="15.8" fill="none" stroke="#21FF06" stroke-width="2.8" stroke-linejoin="round"/>
<rect x="1983.7" y="1295.1" width="15.8" height="15.8" fill="none" stroke="#21FF06" stroke-width="2.8" stroke-linejoin="round"/>
<rect x="1986.4" y="1295.1" width="15.8" height="15.8" fill="none" stroke="#21FF06" stroke-width="2.8" stroke-linejoin="round"/>
<rect x="1989.1" y="1295.1" width="15.8" height="15.8" fill="none" stroke="#21FF06" stroke-width="2.8" stroke-linejoin="round"/>
<rect x="1991.8" y="1295.1" width="15.8" height="15.8" fill="none" stroke="#21FF06" stroke-width="2.8" stroke-linejoin="round"/>
<rect x="1994.5" y="1295.1" width="15.8" height="15.8" fill="none" stroke="#21FF06" stroke-width="2.8" stroke-linejoin="round"/>
<rect x="1997.2" y="1295.1" width="15.8" height="15.8" fill="none" stroke="#21FF06" stroke-width="2.8" stroke-linejoin="round"/>
<rect x="1999.9" y="1295.1" width="15.8" height="15.8" fill="none" stroke="#21FF06" stroke-width="2.8" stroke-linejoin="round"/>
<rect x="2002.6" y="1295.1" width="15.8" height="15.8" fill="none" stroke="#21FF06" stroke-width="2.8" stroke-linejoin="round"/>
<rect x="2005.3" y="1295.1" width="15.8" height="15.8" fill="none" stroke="#21FF06" stroke-width="2.8" stroke-linejoin="round"/>
<rect x="2008.0" y="1295.1" width="15.8" height="15.8" fill="none" stroke="#21FF06" stroke-width="2.8" stroke-linejoin="round"/>
<rect x="2010.7" y="1295.1" width="15.8" height="15.8" fill="none" stroke="#21FF06" stroke-width="2.8" stroke-linejoin="round"/>
<rect x="2013.4" y="1295.1" width="15.8" height="15.8" fill="none" stroke="#21FF06" stroke-width="2.8" stroke-linejoin="round"/>
<rect x="2016.1" y="1295.1" width="15.8" height="15.8" fill="none" stroke="#21FF06" stroke-width="2.8" stroke-linejoin="round"/>
<rect x="2018.8" y="1295.1" width="15.8" height="15.8" fill="none" stroke="#21FF06" stroke-width="2.8" stroke-linejoin="round"/>
<rect x="2021.5" y="1295.1" width="15.8" height="15.8" fill="none" stroke="#21FF06" stroke-width="2.8" stroke-linejoin="round"/>
<rect x="2024.2" y="1295.1" width="15.8" height="15.8" fill="none" stroke="#21FF06" stroke-width="2.8" stroke-linejoin="round"/>
<rect x="2026.9" y="1295.1" width="15.8" height="15.8" fill="none" stroke="#21FF06" stroke-width="2.8" stroke-linejoin="round"/>
<rect x="2029.6" y="1295.1" width="15.8" height="15.8" fill="none" stroke="#21FF06" stroke-width="2.8" stroke-linejoin="round"/>
<rect x="2032.3" y="1295.1" width="15.8" height="15.8" fill="none" stroke="#21FF06" stroke-width="2.8" stroke-linejoin="round"/>
<rect x="2035.0" y="1295.1" width="15.8" height="15.8" fill="none" stroke="#21FF06" stroke-width="2.8" stroke-linejoin="round"/>
<rect x="2037.7" y="1295.1" width="15.8" height="15.8" fill="none" stroke="#21FF06" stroke-width="2.8" stroke-linejoin="round"/>
<path d="M1978.2 1303.0H2001.4M1989.8 1291.4V1314.6M1981.6 1294.8L1998.0 1311.2M1981.6 1311.2L1998.0 1294.8" fill="none" stroke="#21FF06" stroke-width="2.8" stroke-linecap="round"/>
<path d="M1982.3 1303.0H2005.5M1993.9 1291.4V1314.6M1985.7 1294.8L2002.1 1311.2M1985.7 1311.2L2002.1 1294.8" fill="none" stroke="#21FF06" stroke-width="2.8" stroke-linecap="round"/>
<path d="M1999.8 1303.0H2023.0M2011.4 1291.4V1314.6M2003.2 1294.8L2019.6 1311.2M2003.2 1311.2L2019.6 1294.8" fill="none" stroke="#21FF06" stroke-width="2.8" stroke-linecap="round"/>
<path d="M2017.3 1303.0H2040.5M2028.9 1291.4V1314.6M2020.7 1294.8L2037.1 1311.2M2020.7 1311.2L2037.1 1294.8" fill="none" stroke="#21FF06" stroke-width="2.8" stroke-linecap="round"/>
<path d="M1957.3 1298.7H1980.5M1968.9 1287.1V1310.3M1960.7 1290.5L1977.1 1306.9M1960.7 1306.9L1977.1 1290.5" fill="none" stroke="#0000FF" stroke-width="2.8" stroke-linecap="round"/>
<rect x="1992.8" y="1212.5" width="15.8" height="15.8" fill="none" stroke="#FB0207" stroke-width="2.8" stroke-linejoin="round"/>
<path d="M1982.1 1237.9H2005.3M1993.7 1226.3V1249.5M1985.5 1229.7L2001.9 1246.1M1985.5 1246.1L2001.9 1229.7" fill="none" stroke="#FB0207" stroke-width="2.8" stroke-linecap="round"/>
<path d="M1967.2 1274.8H1990.4M1978.8 1263.2V1286.4M1970.6 1266.6L1987.0 1283.0M1970.6 1283.0L1987.0 1266.6" fill="none" stroke="#FB0207" stroke-width="2.8" stroke-linecap="round"/>
<rect x="1990.7" y="1270.6" width="15.8" height="15.8" fill="none" stroke="#FB0207" stroke-width="2.8" stroke-linejoin="round"/>
<path d="M2041.1 1285.6H2064.3M2052.7 1274.0V1297.2M2044.5 1277.4L2060.9 1293.8M2044.5 1293.8L2060.9 1277.4" fill="none" stroke="#0000FF" stroke-width="2.8" stroke-linecap="round"/>
<path d="M2029.5 1302.5H2052.7M2041.1 1290.9V1314.1M2032.9 1294.3L2049.3 1310.7M2032.9 1310.7L2049.3 1294.3" fill="none" stroke="#0000FF" stroke-width="2.8" stroke-linecap="round"/>
<path d="M373.1 282.5H396.3M384.7 270.9V294.1M376.5 274.3L392.9 290.7M376.5 290.7L392.9 274.3" fill="none" stroke="#0000FF" stroke-width="2.8" stroke-linecap="round"/>
<path d="M372.1 340.0H395.3M383.7 328.4V351.6M375.5 331.8L391.9 348.2M375.5 348.2L391.9 331.8" fill="none" stroke="#0000FF" stroke-width="2.8" stroke-linecap="round"/>
<path d="M797.4 600.0H820.6M809.0 588.4V611.6M800.8 591.8L817.2 608.2M800.8 608.2L817.2 591.8" fill="none" stroke="#0000FF" stroke-width="2.8" stroke-linecap="round"/>
<path d="M438.4 858.6H461.6M450.0 847.0V870.2M441.8 850.4L458.2 866.8M441.8 866.8L458.2 850.4" fill="none" stroke="#0000FF" stroke-width="2.8" stroke-linecap="round"/>
<path d="M762.5 1021.4H785.7M774.1 1009.8V1033.0M765.9 1013.2L782.3 1029.6M765.9 1029.6L782.3 1013.2" fill="none" stroke="#0000FF" stroke-width="2.8" stroke-linecap="round"/>
<path d="M805.2 1021.4H828.4M816.8 1009.8V1033.0M808.6 1013.2L825.0 1029.6M808.6 1029.6L825.0 1013.2" fill="none" stroke="#0000FF" stroke-width="2.8" stroke-linecap="round"/>
<path d="M977.9 217.5H1001.1M989.5 205.9V229.1M981.3 209.3L997.7 225.7M981.3 225.7L997.7 209.3" fill="none" stroke="#FB0207" stroke-width="2.8" stroke-linecap="round"/>
<path d="M1342.1 185.2H1365.3M1353.7 173.6V196.8M1345.5 177.0L1361.9 193.4M1345.5 193.4L1361.9 177.0" fill="none" stroke="#FB0207" stroke-width="2.8" stroke-linecap="round"/>
<path d="M1342.1 233.2L1353.7 221.6L1365.3 233.2L1353.7 244.8Z" fill="none" stroke="#FB0207" stroke-width="2.8" stroke-linejoin="round"/>
<path d="M1339.5 279.6L1351.1 268.0L1362.7 279.6L1351.1 291.2Z" fill="none" stroke="#FB0207" stroke-width="2.8" stroke-linejoin="round"/>
<path d="M1440.9 313.4H1464.1M1452.5 301.8V325.0M1444.3 305.2L1460.7 321.6M1444.3 321.6L1460.7 305.2" fill="none" stroke="#FB0207" stroke-width="2.8" stroke-linecap="round"/>
<path d="M1442.1 359.5H1465.3M1453.7 347.9V371.1M1445.5 351.3L1461.9 367.7M1445.5 367.7L1461.9 351.3" fill="none" stroke="#FB0207" stroke-width="2.8" stroke-linecap="round"/>
<path d="M1440.9 414.8H1464.1M1452.5 403.2V426.4M1444.3 406.6L1460.7 423.0M1444.3 423.0L1460.7 406.6" fill="none" stroke="#FB0207" stroke-width="2.8" stroke-linecap="round"/>
<path d="M1343.2 491.9L1354.8 480.3L1366.4 491.9L1354.8 503.5Z" fill="none" stroke="#21FF06" stroke-width="2.8" stroke-linejoin="round"/>
<path d="M1686.6 505.9L1698.2 494.3L1709.8 505.9L1698.2 517.5Z" fill="none" stroke="#21FF06" stroke-width="2.8" stroke-linejoin="round"/>
<rect x="1968.2" y="353.7" width="15.8" height="15.8" fill="none" stroke="#FB0207" stroke-width="2.8" stroke-linejoin="round"/>
<path d="M1997.0 719.0H2020.2M2008.6 707.4V730.6M2000.4 710.8L2016.8 727.2M2000.4 727.2L2016.8 710.8" fill="none" stroke="#0000FF" stroke-width="2.8" stroke-linecap="round"/>
<path d="M2031.2 739.2H2054.4M2042.8 727.6V750.8M2034.6 731.0L2051.0 747.4M2034.6 747.4L2051.0 731.0" fill="none" stroke="#FB0207" stroke-width="2.8" stroke-linecap="round"/>
<rect x="1443.8" y="820.3" width="15.8" height="15.8" fill="none" stroke="#FB0207" stroke-width="2.8" stroke-linejoin="round"/>
<path d="M1485.0 886.7H1508.2M1496.6 875.1V898.3M1488.4 878.5L1504.8 894.9M1488.4 894.9L1504.8 878.5" fill="none" stroke="#FB0207" stroke-width="2.8" stroke-linecap="round"/>
<rect x="1346.5" y="953.1" width="15.8" height="15.8" fill="none" stroke="#FB0207" stroke-width="2.8" stroke-linejoin="round"/>
<rect x="1567.9" y="953.1" width="15.8" height="15.8" fill="none" stroke="#21FF06" stroke-width="2.8" stroke-linejoin="round"/>
<path d="M1863.9 955.6H1887.1M1875.5 944.0V967.2M1867.3 947.4L1883.7 963.8M1867.3 963.8L1883.7 947.4" fill="none" stroke="#21FF06" stroke-width="2.8" stroke-linecap="round"/>
<rect x="1689.9" y="1038.0" width="15.8" height="15.8" fill="none" stroke="#21FF06" stroke-width="2.8" stroke-linejoin="round"/>
<rect x="1688.7" y="1066.0" width="15.8" height="15.8" fill="none" stroke="#21FF06" stroke-width="2.8" stroke-linejoin="round"/>
<path d="M1977.6 1080.9L1989.2 1069.3L2000.8 1080.9L1989.2 1092.5Z" fill="none" stroke="#FB0207" stroke-width="2.8" stroke-linejoin="round"/>
<rect x="495.4" y="175.4" width="15.8" height="15.8" fill="none" stroke="#FB0207" stroke-width="2.8" stroke-linejoin="round"/>
<rect x="768.7" y="114.2" width="15.8" height="15.8" fill="none" stroke="#FB0207" stroke-width="2.8" stroke-linejoin="round"/>
<rect x="805.8" y="171.8" width="15.8" height="15.8" fill="none" stroke="#FB0207" stroke-width="2.8" stroke-linejoin="round"/>
<rect x="1048.6" y="143.1" width="15.8" height="15.8" fill="none" stroke="#FB0207" stroke-width="2.8" stroke-linejoin="round"/>
<rect x="1219.7" y="147.0" width="15.8" height="15.8" fill="none" stroke="#FB0207" stroke-width="2.8" stroke-linejoin="round"/>
<rect x="798.7" y="84.5" width="15.8" height="15.8" fill="none" stroke="#FB0207" stroke-width="2.8" stroke-linejoin="round"/>
<rect x="804.1" y="77.7" width="15.8" height="15.8" fill="none" stroke="#FB0207" stroke-width="2.8" stroke-linejoin="round"/>
<rect x="806.6" y="78.6" width="15.8" height="15.8" fill="none" stroke="#FB0207" stroke-width="2.8" stroke-linejoin="round"/>
<rect x="808.6" y="77.9" width="15.8" height="15.8" fill="none" stroke="#FB0207" stroke-width="2.8" stroke-linejoin="round"/>
<rect x="810.4" y="79.1" width="15.8" height="15.8" fill="none" stroke="#FB0207" stroke-width="2.8" stroke-linejoin="round"/>
<rect x="805.1" y="81.1" width="15.8" height="15.8" fill="none" stroke="#FB0207" stroke-width="2.8" stroke-linejoin="round"/>
<rect x="807.6" y="82.1" width="15.8" height="15.8" fill="none" stroke="#FB0207" stroke-width="2.8" stroke-linejoin="round"/>
<rect x="810.4" y="82.6" width="15.8" height="15.8" fill="none" stroke="#FB0207" stroke-width="2.8" stroke-linejoin="round"/>
<rect x="808.1" y="84.6" width="15.8" height="15.8" fill="none" stroke="#FB0207" stroke-width="2.8" stroke-linejoin="round"/>
<rect x="810.6" y="85.1" width="15.8" height="15.8" fill="none" stroke="#FB0207" stroke-width="2.8" stroke-linejoin="round"/>
<rect x="805.6" y="84.1" width="15.8" height="15.8" fill="none" stroke="#FB0207" stroke-width="2.8" stroke-linejoin="round"/>
<rect x="807.1" y="80.1" width="15.8" height="15.8" fill="none" stroke="#FB0207" stroke-width="2.8" stroke-linejoin="round"/>
<rect x="806.7" y="106.8" width="15.8" height="15.8" fill="none" stroke="#FB0207" stroke-width="2.8" stroke-linejoin="round"/>
<rect x="807.3" y="108.3" width="15.8" height="15.8" fill="none" stroke="#FB0207" stroke-width="2.8" stroke-linejoin="round"/>
<rect x="806.1" y="118.1" width="15.8" height="15.8" fill="none" stroke="#FB0207" stroke-width="2.8" stroke-linejoin="round"/>
<path d="M803.4 88.0H826.6M815.0 76.4V99.6M806.8 79.8L823.2 96.2M806.8 96.2L823.2 79.8" fill="none" stroke="#FB0207" stroke-width="2.8" stroke-linecap="round"/>
<path d="M805.4 91.0H828.6M817.0 79.4V102.6M808.8 82.8L825.2 99.2M808.8 99.2L825.2 82.8" fill="none" stroke="#FB0207" stroke-width="2.8" stroke-linecap="round"/>
<path d="M801.4 90.0H824.6M813.0 78.4V101.6M804.8 81.8L821.2 98.2M804.8 98.2L821.2 81.8" fill="none" stroke="#FB0207" stroke-width="2.8" stroke-linecap="round"/>
<path d="M802.3 107.9L813.9 96.3L825.5 107.9L813.9 119.5Z" fill="none" stroke="#FB0207" stroke-width="2.8" stroke-linejoin="round"/>
<path d="M801.2 118.2H824.4M812.8 106.6V129.8M804.6 110.0L821.0 126.4M804.6 126.4L821.0 110.0" fill="none" stroke="#FB0207" stroke-width="2.8" stroke-linecap="round"/>
<path d="M806.7 87.5H829.9M818.3 75.9V99.1M810.1 79.3L826.5 95.7M810.1 95.7L826.5 79.3" fill="none" stroke="#0000FF" stroke-width="2.8" stroke-linecap="round"/>
<path d="M790.9 103.0H814.1M802.5 91.4V114.6M794.3 94.8L810.7 111.2M794.3 111.2L810.7 94.8" fill="none" stroke="#0000FF" stroke-width="2.8" stroke-linecap="round"/>
<rect x="868.1" y="77.3" width="15.8" height="15.8" fill="none" stroke="#FB0207" stroke-width="2.8" stroke-linejoin="round"/>
<rect x="872.1" y="77.6" width="15.8" height="15.8" fill="none" stroke="#FB0207" stroke-width="2.8" stroke-linejoin="round"/>
<rect x="870.1" y="79.6" width="15.8" height="15.8" fill="none" stroke="#FB0207" stroke-width="2.8" stroke-linejoin="round"/>
<rect x="872.4" y="82.1" width="15.8" height="15.8" fill="none" stroke="#FB0207" stroke-width="2.8" stroke-linejoin="round"/>
<rect x="869.1" y="84.1" width="15.8" height="15.8" fill="none" stroke="#FB0207" stroke-width="2.8" stroke-linejoin="round"/>
<rect x="871.1" y="86.1" width="15.8" height="15.8" fill="none" stroke="#FB0207" stroke-width="2.8" stroke-linejoin="round"/>
<rect x="868.6" y="88.1" width="15.8" height="15.8" fill="none" stroke="#FB0207" stroke-width="2.8" stroke-linejoin="round"/>
<rect x="870.6" y="90.1" width="15.8" height="15.8" fill="none" stroke="#FB0207" stroke-width="2.8" stroke-linejoin="round"/>
<rect x="868.1" y="92.1" width="15.8" height="15.8" fill="none" stroke="#FB0207" stroke-width="2.8" stroke-linejoin="round"/>
<rect x="871.6" y="93.1" width="15.8" height="15.8" fill="none" stroke="#FB0207" stroke-width="2.8" stroke-linejoin="round"/>
<rect x="869.6" y="95.1" width="15.8" height="15.8" fill="none" stroke="#FB0207" stroke-width="2.8" stroke-linejoin="round"/>
<rect x="868.1" y="96.6" width="15.8" height="15.8" fill="none" stroke="#FB0207" stroke-width="2.8" stroke-linejoin="round"/>
<rect x="870.1" y="98.4" width="15.8" height="15.8" fill="none" stroke="#FB0207" stroke-width="2.8" stroke-linejoin="round"/>
<rect x="870.6" y="111.6" width="15.8" height="15.8" fill="none" stroke="#FB0207" stroke-width="2.8" stroke-linejoin="round"/>
<path d="M866.6 86.7L878.2 75.1L889.8 86.7L878.2 98.3Z" fill="none" stroke="#FB0207" stroke-width="2.8" stroke-linejoin="round"/>
<path d="M868.4 90.3L880.0 78.7L891.6 90.3L880.0 101.9Z" fill="none" stroke="#FB0207" stroke-width="2.8" stroke-linejoin="round"/>
<rect x="1347.2" y="95.1" width="15.8" height="15.8" fill="none" stroke="#FB0207" stroke-width="2.8" stroke-linejoin="round"/>
<rect x="1346.0" y="96.4" width="15.8" height="15.8" fill="none" stroke="#FB0207" stroke-width="2.8" stroke-linejoin="round"/>
<rect x="1342.4" y="106.4" width="15.8" height="15.8" fill="none" stroke="#FB0207" stroke-width="2.8" stroke-linejoin="round"/>
<rect x="1346.0" y="118.6" width="15.8" height="15.8" fill="none" stroke="#FB0207" stroke-width="2.8" stroke-linejoin="round"/>
<rect x="1445.8" y="80.6" width="15.8" height="15.8" fill="none" stroke="#FB0207" stroke-width="2.8" stroke-linejoin="round"/>
<rect x="1444.6" y="82.1" width="15.8" height="15.8" fill="none" stroke="#FB0207" stroke-width="2.8" stroke-linejoin="round"/>
<rect x="1446.6" y="83.6" width="15.8" height="15.8" fill="none" stroke="#FB0207" stroke-width="2.8" stroke-linejoin="round"/>
<rect x="1445.1" y="85.6" width="15.8" height="15.8" fill="none" stroke="#FB0207" stroke-width="2.8" stroke-linejoin="round"/>
<rect x="1446.1" y="87.6" width="15.8" height="15.8" fill="none" stroke="#FB0207" stroke-width="2.8" stroke-linejoin="round"/>
<rect x="1445.4" y="89.6" width="15.8" height="15.8" fill="none" stroke="#FB0207" stroke-width="2.8" stroke-linejoin="round"/>
<rect x="1445.4" y="92.5" width="15.8" height="15.8" fill="none" stroke="#FB0207" stroke-width="2.8" stroke-linejoin="round"/>
<path d="M1442.0 92.5H1465.2M1453.6 80.9V104.1M1445.4 84.3L1461.8 100.7M1445.4 100.7L1461.8 84.3" fill="none" stroke="#FB0207" stroke-width="2.8" stroke-linecap="round"/>
<path d="M1442.4 93.1H1465.6M1454.0 81.5V104.7M1445.8 84.9L1462.2 101.3M1445.8 101.3L1462.2 84.9" fill="none" stroke="#0000FF" stroke-width="2.8" stroke-linecap="round"/>
<path d="M1616.2 100.7H1639.4M1627.8 89.1V112.3M1619.6 92.5L1636.0 108.9M1619.6 108.9L1636.0 92.5" fill="none" stroke="#FB0207" stroke-width="2.8" stroke-linecap="round"/>
<path d="M1616.2 96.0H1639.4M1627.8 84.4V107.6M1619.6 87.8L1636.0 104.2M1619.6 104.2L1636.0 87.8" fill="none" stroke="#0000FF" stroke-width="2.8" stroke-linecap="round"/>
<rect x="1967.6" y="103.5" width="15.8" height="15.8" fill="none" stroke="#FB0207" stroke-width="2.8" stroke-linejoin="round"/>
<rect x="1966.0" y="132.7" width="15.8" height="15.8" fill="none" stroke="#FB0207" stroke-width="2.8" stroke-linejoin="round"/>
<rect x="2000.6" y="98.6" width="15.8" height="15.8" fill="none" stroke="#FB0207" stroke-width="2.8" stroke-linejoin="round"/>
<rect x="1999.2" y="102.8" width="15.8" height="15.8" fill="none" stroke="#FB0207" stroke-width="2.8" stroke-linejoin="round"/>
<rect x="2035.2" y="94.4" width="15.8" height="15.8" fill="none" stroke="#FB0207" stroke-width="2.8" stroke-linejoin="round"/>
</g>
<path d="M2221.3 22.9V1363.9" fill="none" stroke="#2A2A2A" stroke-width="2.2"/>
<path d="M2222.4 23.9H182.0V1362.9H2222.4" fill="none" stroke="#111111" stroke-width="2.0"/>
<g stroke="#2A2A2A" stroke-width="4.3">
<line x1="169.4" x2="180.9" y1="83.4" y2="83.4"/>
<line x1="169.4" x2="180.9" y1="388.2" y2="388.2"/>
<line x1="169.4" x2="180.9" y1="693.0" y2="693.0"/>
<line x1="169.4" x2="180.9" y1="997.9" y2="997.9"/>
<line x1="169.4" x2="180.9" y1="1302.9" y2="1302.9"/>
<line x1="357.5" x2="357.5" y1="1363.9" y2="1375.4"/>
<line x1="1022.5" x2="1022.5" y1="1363.9" y2="1375.4"/>
<line x1="1687.5" x2="1687.5" y1="1363.9" y2="1375.4"/>
</g>
<g fill="#444444" font-size="36.67px">
<text x="159.3" y="97.4" text-anchor="end">1.00</text>
<text x="159.3" y="402.2" text-anchor="end">0.75</text>
<text x="159.3" y="707.0" text-anchor="end">0.50</text>
<text x="159.3" y="1011.9" text-anchor="end">0.25</text>
<text x="159.3" y="1316.9" text-anchor="end">0.00</text>
<text x="357.5" y="1412.2" text-anchor="middle" letter-spacing="-0.1">30,700,000</text>
<text x="1022.5" y="1412.2" text-anchor="middle" letter-spacing="-0.1">30,720,000</text>
<text x="1687.5" y="1412.2" text-anchor="middle" letter-spacing="-0.1">30,740,000</text>
</g>
<g fill="#000" font-size="45.83px">
<text x="1201.65" y="1466.6" text-anchor="middle">Genomic location of TM9SF4 (GRCh37 chr20:30697494-30753298, gray = RefSeq exons)</text>
<text transform="translate(55.2,693.4000000000001) rotate(-90)" text-anchor="middle">CAPICE score (pathogenicity estimate)</text>
<text x="2292.8" y="413">Source</text>
<text x="2292.8" y="774">Classification</text>
</g>
<g fill="#000" font-size="36.67px">
<text x="2373.5" y="480.2" letter-spacing="0.2">CAPICE Testing</text>
<text x="2373.5" y="552.2" letter-spacing="0.2">CAPICE Training</text>
<text x="2373.5" y="624.2" letter-spacing="0.2">VKGL Oct. 2019</text>
<text x="2373.5" y="840.6" letter-spacing="0.2">LB/B</text>
<text x="2373.5" y="912.6" letter-spacing="0.2">LP/P</text>
<text x="2373.5" y="984.6" letter-spacing="0.2">VUS</text>
</g>
<path d="M2317.9 466.6L2329.5 455.0L2341.1 466.6L2329.5 478.2Z" fill="none" stroke="#000" stroke-width="2.8" stroke-linejoin="round"/>
<rect x="2321.6" y="530.7" width="15.8" height="15.8" fill="none" stroke="#000" stroke-width="2.8" stroke-linejoin="round"/>
<path d="M2317.9 610.6H2341.1M2329.5 599.0V622.2M2321.3 602.4L2337.7 618.8M2321.3 618.8L2337.7 602.4" fill="none" stroke="#000" stroke-width="2.8" stroke-linecap="round"/>
<circle cx="2329.5" cy="827.6" r="9.7" fill="#21FF06"/>
<circle cx="2329.5" cy="899.6" r="9.7" fill="#FB0207"/>
<circle cx="2329.5" cy="971.6" r="9.7" fill="#0000FF"/>
</svg></body></html>
